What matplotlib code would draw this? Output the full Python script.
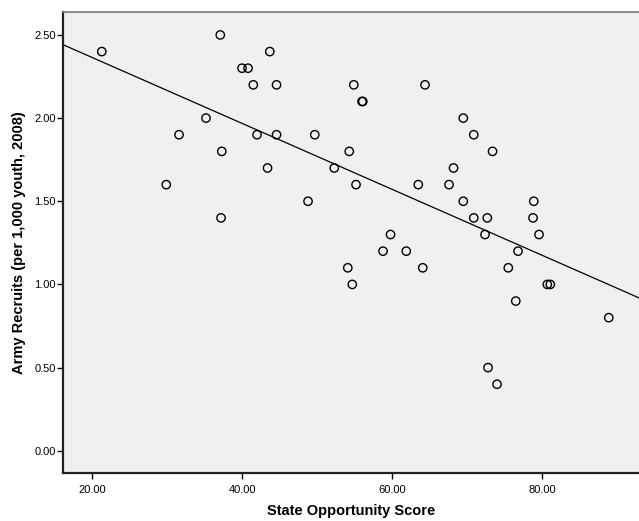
import numpy as np
import matplotlib
matplotlib.use("Agg")
import matplotlib.pyplot as plt

plt.rcParams['font.family'] = ['Liberation Sans', 'DejaVu Sans']

# State Opportunity Score
opportunity = [21.3, 37.1, 40.0, 40.8, 41.5, 43.7, 44.6, 35.2, 31.6, 42.0,
               44.6, 49.7, 37.3, 43.4, 29.9, 48.8, 37.2,
               54.9, 64.4, 56.0, 56.1, 69.5, 70.9, 54.3, 73.4, 52.3,
               68.2, 55.2, 63.5, 67.6, 69.5, 78.9, 70.9, 72.7, 78.8,
               59.8, 72.4, 79.6, 58.8, 61.9, 76.8,
               54.1, 64.1, 75.5, 54.7, 80.7, 81.1, 76.5, 88.9, 72.8, 74.0]
# Army Recruits (per 1,000 youth, 2008)
recruits = [2.4, 2.5, 2.3, 2.3, 2.2, 2.4, 2.2, 2.0, 1.9, 1.9,
            1.9, 1.9, 1.8, 1.7, 1.6, 1.5, 1.4,
            2.2, 2.2, 2.1, 2.1, 2.0, 1.9, 1.8, 1.8, 1.7,
            1.7, 1.6, 1.6, 1.6, 1.5, 1.5, 1.4, 1.4, 1.4,
            1.3, 1.3, 1.3, 1.2, 1.2, 1.2,
            1.1, 1.1, 1.1, 1.0, 1.0, 1.0, 0.9, 0.8, 0.5, 0.4]

x_ticks = [20, 40, 60, 80]
y_ticks = [0.0, 0.5, 1.0, 1.5, 2.0, 2.5]

fig = plt.figure(figsize=(6.39, 5.21), dpi=100)
ax = fig.add_axes([0.0986, 0.0927, 0.9014, 0.8843])
ax.set_facecolor('#F0F0F0')

xlim = (16.13, 92.93)
ylim = (-0.132, 2.638)

ax.scatter(opportunity, recruits, s=36, facecolors='none', edgecolors='black',
           linewidths=1.0, zorder=3)

slope, intercept = np.polyfit(opportunity, recruits, 1)
xs = np.array(xlim)
ax.plot(xs, intercept + slope * xs, color='black', linewidth=0.9, zorder=2)

ax.set_xlim(*xlim)
ax.set_ylim(*ylim)
ax.set_xticks(x_ticks)
ax.set_xticklabels([f"{v:.2f}" for v in x_ticks])
ax.set_yticks(y_ticks)
ax.set_yticklabels([f"{v:.2f}" for v in y_ticks])

for s in ['left', 'bottom']:
    ax.spines[s].set_linewidth(1.6)
    ax.spines[s].set_color('#222222')
ax.spines['top'].set_color('#777777')
ax.spines['top'].set_linewidth(1.2)
ax.spines['right'].set_visible(False)

ax.tick_params(axis='both', direction='out', length=4, width=1.0, labelsize=8,
               colors='black')
ax.tick_params(axis='x', pad=5)
ax.tick_params(axis='y', pad=1)

ax.set_xlabel('State Opportunity Score', fontsize=10.5, fontweight='bold', labelpad=6)
ax.set_ylabel('Army Recruits (per 1,000 youth, 2008)', fontsize=10.5, fontweight='bold',
              labelpad=6)

fig.savefig('out.png', dpi=100)
